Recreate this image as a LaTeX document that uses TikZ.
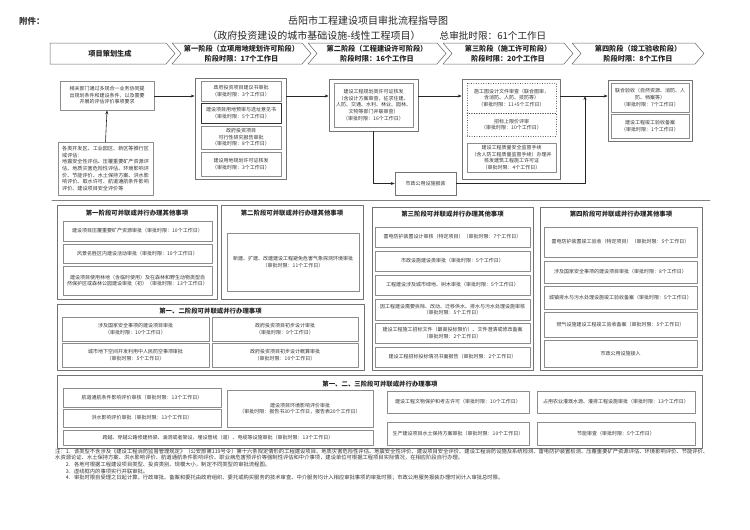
\documentclass[tikz,border=0pt]{standalone}
\usepackage{fontspec}
\setmainfont{Noto Sans CJK SC}
\usetikzlibrary{arrows.meta}

\begin{document}
\begin{tikzpicture}[
  x=1pt,
  y=-1pt,
  line cap=round,
  line join=round,
  boxwh/.style 2 args={minimum width=#1pt, minimum height=#2pt},
  panel/.style={draw=black!55, line width=0.7pt, inner sep=0pt},
  item/.style={draw=black!45, line width=0.45pt, inner sep=0pt,
    align=center, text=black!80, font=\fontsize{5}{6.6}\selectfont},
  ptitle/.style={text=black!85, inner sep=0pt,
    font=\fontsize{6.4}{7}\selectfont\bfseries},
  stagehead/.style={draw=black!60, line width=0.5pt},
  headtext/.style={text=black!85, inner sep=0pt,
    font=\fontsize{7.2}{8}\selectfont\bfseries},
  arr/.style={draw=black!85, line width=0.6pt, -{Stealth[length=4pt,width=3pt]}},
  note/.style={anchor=west, inner sep=0pt, text=black!80,
    font=\fontsize{5.3}{6}\selectfont}
]
  \useasboundingbox (0,0) rectangle (750,530);

  % Заголовок
  \node[text=black!80, font=\fontsize{8.5}{9}\selectfont\bfseries]
    (att) at (32,21) {附件：};
  \node[text=black!85, font=\fontsize{10}{12}\selectfont]
    (title) at (368,21) {岳阳市工程建设项目审批流程指导图};
  \node[text=black!85, font=\fontsize{10}{12}\selectfont]
    (subtitle) at (314,36) {（政府投资建设的城市基础设施-线性工程项目）};
  \node[text=black!85, font=\fontsize{9.6}{12}\selectfont]
    (total) at (493,36) {总审批时限：61个工作日};

  % Полоса этапов
  \draw[stagehead]
    (50,43) -- (166,43) -- (175,53.5) -- (166,64) -- (50,64) -- cycle;
  \node[headtext] (h0) at (110,53.5) {项目策划生成};

  \draw[stagehead]
    (172,43) -- (302,43) -- (311,53.5) -- (302,64)
    -- (172,64) -- (181,53.5) -- cycle;
  \node[headtext] (h1a) at (241.5,48.5) {第一阶段（立项用地规划许可阶段）};
  \node[headtext] (h1b) at (241.5,58.5) {阶段时限：17个工作日};

  \draw[stagehead]
    (308,43) -- (437,43) -- (446,53.5) -- (437,64)
    -- (308,64) -- (317,53.5) -- cycle;
  \node[headtext] (h2a) at (377,48.5) {第二阶段（工程建设许可阶段）};
  \node[headtext] (h2b) at (377,58.5) {阶段时限：16个工作日};

  \draw[stagehead]
    (443,43) -- (564,43) -- (573,53.5) -- (564,64)
    -- (443,64) -- (452,53.5) -- cycle;
  \node[headtext] (h3a) at (508,48.5) {第三阶段（施工许可阶段）};
  \node[headtext] (h3b) at (508,58.5) {阶段时限：20个工作日};

  \draw[stagehead]
    (572,43) -- (695,43) -- (704,53.5) -- (695,64)
    -- (572,64) -- (581,53.5) -- cycle;
  \node[headtext] (h4a) at (638,48.5) {第四阶段（竣工验收阶段）};
  \node[headtext] (h4b) at (638,58.5) {阶段时限：8个工作日};

  % Основной поток
  \coordinate (lane) at (0,96);

  \node[panel, item, boxwh={94}{29}, line width=0.7pt] (pA) at (107,95.5)
    {相关部门通过多规合一业务协同提\\出规划条件和建设条件，以及需要\\开展的评估评价事项要求};
  \node[panel, item, boxwh={95}{53}, line width=0.7pt, align=left,
    font=\fontsize{5.1}{6.7}\selectfont] (pB) at (105.5,168.5)
    {各类开发区、工业园区、新区等推行区\\域评估：\\地震安全性评估、压覆重要矿产资源评\\估、地质灾害危险性评估、环境影响评\\价、节能评价、水土保持方案、洪水影\\响评价、取水许可、航道通航条件影响\\评价、建设项目安全评价等};

  \node[panel, boxwh={91}{101}] (S1) at (240.5,128.5) {};
  \node[item, boxwh={80}{20}] (s1a) at (241,91)
    {政府投资项目建议书审批\\（审批时限：3个工作日）};
  \node[item, boxwh={80}{20}, draw=black!80, line width=0.6pt] (s1b) at (241,113)
    {建设项目用地预审与选址意见书\\（审批时限：5个工作日）};
  \node[item, boxwh={80}{23}] (s1c) at (241,137.5)
    {政府投资项目\\可行性研究报告审批\\（审批时限：8个工作日）};
  \node[item, boxwh={80}{24}] (s1d) at (241,164)
    {建设用地规划许可证核发\\（审批时限：3个工作日）};

  \node[panel, boxwh={89}{52}] (S2) at (373.5,105) {};
  \node[item, boxwh={79}{44}] (s2a) at (373.5,105)
    {建设工程规划类许可证核发\\（含设计方案审查，征求住建、\\人防、交通、水利、林业、园林、\\文物等部门并联审查）\\（审批时限：16个工作日）};

  \node[panel, boxwh={98}{100}] (S3) at (511,129) {};
  \node[item, boxwh={89}{30}, dotted, draw=black!70] (s3a) at (511.5,98)
    {施工图设计文件审查（联合图审，\\含消防、人防、技防等）\\（审批时限：11+5个工作日）};
  \node[item, boxwh={89}{23}, dotted, draw=black!70] (s3b) at (511.5,124.5)
    {招标上限价评审\\（审批时限：10个工作日）};
  \node[item, boxwh={89}{29}] (s3c) at (511.5,157.5)
    {建设工程质量安全监督手续\\（含人防工程质量监督手续）办理并\\核发建筑工程施工许可证\\（审批时限：4个工作日）};

  \node[panel, boxwh={84}{61}] (S4) at (650,110.5) {};
  \node[item, boxwh={78}{29}] (s4a) at (650,97.5)
    {联合验收（自然资源、消防、人\\防、档案等）\\（审批时限：7个工作日）};
  \node[item, boxwh={78}{24}] (s4b) at (650,126)
    {建设工程竣工验收备案\\（审批时限：1个工作日）};

  \node[item, boxwh={61}{23}, draw=black!55, line width=0.6pt] (SZ) at (425.5,183.5)
    {市政公用设施报装};

  \coordinate (join) at (585,96);

  \draw[arr] (pB.north) -- (pA.south);
  \draw[arr] (pA.east |- lane) -- (S1.west |- lane);
  \draw[arr] (S1.east |- lane) -- (S2.west |- lane);
  \draw[arr] (S2.east |- lane) -- (S3.west |- lane);
  \draw[arr] (S3.east |- lane) -- (S4.west |- lane);
  \draw[arr] (S2.south) |- (SZ.west);
  \draw[arr] (SZ.east) -| (join);

  % Разделитель
  \draw[black!50, line width=0.9pt] (52,200) -- (710,200);

  % Параллельные дела: первый и второй этапы
  \node[panel, boxwh={160}{94}] (P1) at (137,252) {};
  \node[ptitle] (P1t) at (137,213) {第一阶段可并联或并行办理其他事项};
  \node[item, boxwh={149}{20}] (m1a) at (137.5,231)
    {建设项目压覆重要矿产资源审批（审批时限：10个工作日）};
  \node[item, boxwh={149}{19}] (m1b) at (137.5,253.5)
    {风景名胜区内建设活动审批（审批时限：10个工作日）};
  \node[item, boxwh={149}{29}] (m1c) at (137.5,280.5)
    {建设项目使用林地（含临时使用）及在森林和野生动物类型自\\然保护区或森林公园建设审批（初）（审批时限：13个工作日）};

  \node[panel, boxwh={142}{94}] (P2) at (292,252) {};
  \node[ptitle] (P2t) at (292,213) {第二阶段可并联或并行办理其他事项};
  \node[item, boxwh={132}{58}] (m2a) at (293,262)
    {新建、扩建、改建建设工程避免危害气象探测环境审批\\（审批时限：11个工作日）};

  \node[panel, boxwh={307}{66}] (P12) at (210.5,337) {};
  \node[ptitle] (P12t) at (210.5,311) {第一、二阶段可并联或并行办理事项};
  \node[item, boxwh={147}{24}] (n1) at (135.5,329)
    {涉及国家安全事项的建设项目审批\\（审批时限：10个工作日）};
  \node[item, boxwh={146}{24}] (n2) at (285,329)
    {政府投资项目初步设计审批\\（审批时限：9个工作日）};
  \node[item, boxwh={147}{24}] (n3) at (135.5,355)
    {城市地下空间开发利用中人民防空事项审批\\（审批时限：5个工作日）};
  \node[item, boxwh={146}{24}] (n4) at (285,355)
    {政府投资项目初步设计概算审批\\（审批时限：10个工作日）};

  % Параллельные дела: третий этап
  \node[panel, boxwh={161}{163}] (P3) at (452.5,288.5) {};
  \node[ptitle] (P3t) at (452.5,214) {第三阶段可并联或并行办理其他事项};
  \node[item, boxwh={155}{20}] (t1) at (452.5,237)
    {雷电防护装置设计审核（特定项目）（审批时限：7个工作日）};
  \node[item, boxwh={155}{20}] (t2) at (452.5,261)
    {市政设施建设类审批（审批时限：5个工作日）};
  \node[item, boxwh={155}{20}] (t3) at (452.5,285)
    {工程建设涉及城市绿地、树木审批（审批时限：5个工作日）};
  \node[item, boxwh={155}{21}] (t4) at (452.5,309.5)
    {因工程建设需要拆除、改动、迁移供水、排水与污水处理设施审核\\（审批时限：5个工作日）};
  \node[item, boxwh={155}{20}] (t5) at (452.5,333)
    {建设工程施工招标文件（最高投标限价）、文件澄清或修改备案\\（审批时限：2个工作日）};
  \node[item, boxwh={155}{20}] (t6) at (452.5,357)
    {建设工程招标投标情况书面报告（审批时限：2个工作日）};

  % Параллельные дела: четвёртый этап
  \node[panel, boxwh={162}{163}] (P4) at (621,288.5) {};
  \node[ptitle] (P4t) at (621,214) {第四阶段可并联或并行办理其他事项};
  \node[item, boxwh={153}{30}] (f1) at (620.5,242)
    {雷电防护装置竣工验收（特定项目）（审批时限：5个工作日）};
  \node[item, boxwh={153}{22}] (f2) at (620.5,272)
    {涉及国家安全事项的建设项目审批（审批时限：8个工作日）};
  \node[item, boxwh={153}{23}] (f3) at (620.5,297.5)
    {城镇排水与污水处理设施竣工验收备案（审批时限：5个工作日）};
  \node[item, boxwh={153}{25}] (f4) at (620.5,324.5)
    {燃气设施建设工程竣工验收备案（审批时限：5个工作日）};
  \node[item, boxwh={153}{27}] (f5) at (620.5,353.5)
    {市政公用设施接入};

  % Параллельные дела: первый -- третий этапы
  \node[panel, boxwh={645}{73}] (P123) at (379.5,411.5) {};
  \node[ptitle] (P123t) at (380,384) {第一、二、三阶段可并联或并行办理事项};
  \node[item, boxwh={158}{19}] (b1) at (142,397.5)
    {航道通航条件影响评价审核（审批时限：13个工作日）};
  \node[item, boxwh={158}{18}] (b2) at (142,418)
    {洪水影响评价审批（审批时限：13个工作日）};
  \node[item, boxwh={146}{37}] (b3) at (300,408.5)
    {建设项目环境影响评价审批\\（审批时限：报告书30个工作日，报告表20个工作日）};
  \node[item, boxwh={310}{15}] (b4) at (218,437.5)
    {跨越、穿越公路修建桥梁、涵洞或者架设、埋设管线（道）、电缆等设施审批（审批时限：13个工作日）};
  \node[item, boxwh={142}{22}] (b5) at (458,402)
    {建设工程文物保护和考古许可（审批时限：10个工作日）};
  \node[item, boxwh={142}{23}] (b6) at (458,433.5)
    {生产建设项目水土保持方案审批（审批时限：10个工作日）};
  \node[item, boxwh={158}{22}] (b7) at (616,402)
    {占用农业灌溉水源、灌排工程设施审批（审批时限：13个工作日）};
  \node[item, boxwh={158}{23}] (b8) at (616,433.5)
    {节能审查（审批时限：5个工作日）};

  % Примечания
  \node[note] (note1) at (55,451.5)
    {注：1．该类型不含涉及《建设工程消防监督管理规定》（公安部第119号令）第十六条规定情形的工程建设项目、地质灾害危险性评估、地震安全性评价、建设项目安全评价、建设工程消防设施及系统检测、雷电防护装置检测、压覆重要矿产资源评估、环境影响评价、节能评价、};
  \node[note] (note2) at (55,458)
    {水资源论证、水土保持方案、洪水影响评价、航道通航条件影响评价、职业病危害预评价等强制性评估和中介事项，建设单位可根据工程项目实际情况，在相应阶段自行办理。};
  \node[note] (note3) at (65.6,464.5)
    {2．各地可根据工程建设项目类型、投资类别、规模大小，制定不同类型的审批流程图。};
  \node[note] (note4) at (65.6,471)
    {3．虚线框内的事项实行并联审批。};
  \node[note] (note5) at (65.6,477.5)
    {4．审批时限自受理之日起计算。行政审批、备案和委托由政府组织、委托或购买服务的技术审查、中介服务均计入相应审批事项的审批时限；市政公用服务报装办理时间计入审批总时限。};
\end{tikzpicture}
\end{document}
